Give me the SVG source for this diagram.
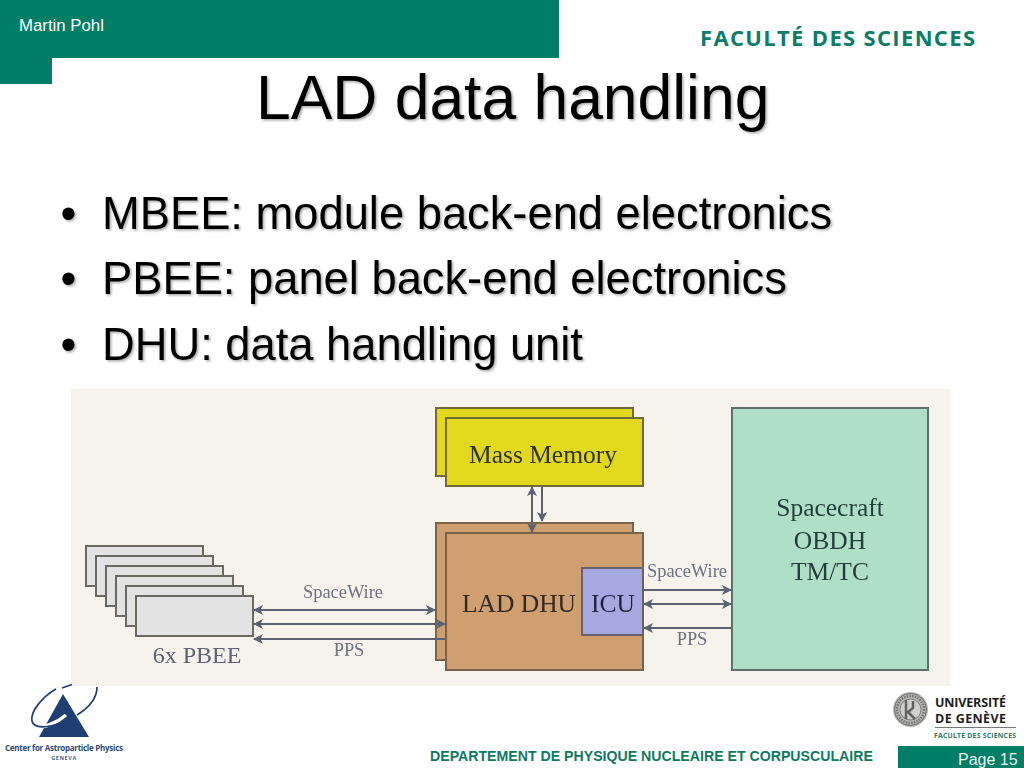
<svg xmlns="http://www.w3.org/2000/svg" width="1024" height="768" viewBox="0 0 1024 768">
<style>
.s{font-family:"Liberation Sans",Arial,sans-serif}
.p{font-family:"Liberation Serif","Times New Roman",serif;text-anchor:middle}
.t{font-size:62.4px;fill:#000;filter:url(#sh)}
.b{font-size:45.3px;fill:#000;filter:url(#sh)}
.pb{fill:#e3e3e3;stroke:#6a6a64;stroke-width:2}
.y{fill:#e2d91e;stroke:#6f6a38;stroke-width:2}
.o{fill:#cf9f70;stroke:#78634e;stroke-width:2}
.c{stroke:#5c6272;stroke-width:2;fill:none}
.lab{fill:#6d7180;font-size:18.4px}
.dk{fill:#33291f;font-size:25.5px}
.logo{font-family:"Open Sans","Liberation Sans",sans-serif;font-weight:700}
</style>
<defs>
<filter id="sh" x="-5%" y="-20%" width="110%" height="140%"><feDropShadow dx="1.6" dy="1.6" stdDeviation=".8" flood-color="#000" flood-opacity=".32"/></filter>
<filter id="soft" x="0" y="0" width="100%" height="100%"><feGaussianBlur stdDeviation=".45"/></filter>
<marker id="a" viewBox="0 0 10 10" refX="9" refY="5" markerWidth="5.5" markerHeight="5" orient="auto-start-reverse"><path d="M0 0L10 5L0 10L2.5 5Z" fill="#5c6272"/></marker>
</defs>
<rect width="1024" height="768" fill="#fff"/>
<g id="header">
<path d="M0 0H559V58H52V84H0Z" fill="#007f66"/>
<text class="s" x="19" y="30.500" font-size="16.800" fill="#fff">Martin Pohl</text>
<text x="700" y="46" font-family="'Open Sans','Liberation Sans',sans-serif" font-weight="700" font-size="22" fill="#0b7d69" textLength="275">FACULTÉ DES SCIENCES</text>
</g>
<text class="s t" x="256" y="119">LAD data handling</text>
<g id="bullets" class="s">
<text class="b" x="60.500" y="229">•</text><text class="b" x="102" y="229">MBEE: module back-end electronics</text>
<text class="b" x="60.500" y="294">•</text><text class="b" x="102" y="294">PBEE: panel back-end electronics</text>
<text class="b" x="60.500" y="360">•</text><text class="b" x="102" y="360">DHU: data handling unit</text>
</g>
<g id="figure" filter="url(#soft)">
<rect x="71" y="389" width="879" height="297" fill="#f5f3ec"/>
<g id="pbee">
<rect class="pb" x="86" y="546" width="117" height="40"/>
<rect class="pb" x="96" y="556" width="117" height="40"/>
<rect class="pb" x="106" y="566" width="117" height="40"/>
<rect class="pb" x="116" y="576" width="117" height="40"/>
<rect class="pb" x="126" y="586" width="117" height="40"/>
<rect class="pb" x="136" y="596" width="117" height="40"/>
<text class="p" x="197" y="663" font-size="24" fill="#5e6474">6x PBEE</text>
</g>
<g id="mass-memory">
<rect class="y" x="436" y="408" width="197" height="68"/>
<rect class="y" x="446" y="418" width="197" height="68"/>
<text class="p dk" x="543" y="463" style="fill:#33301a">Mass Memory</text>
</g>
<g id="lad-dhu">
<rect class="o" x="436" y="523" width="197" height="137"/>
<rect class="o" x="446" y="533" width="197" height="137"/>
<text class="p dk" x="519" y="612">LAD DHU</text>
</g>
<g id="icu">
<rect x="582" y="568" width="61" height="67" fill="#a8a8e0" stroke="#666270" stroke-width="2"/>
<text class="p" x="613" y="612" font-size="25.500" fill="#1f2440">ICU</text>
</g>
<g id="spacecraft">
<rect x="732" y="408" width="196" height="262" fill="#b0dfc8" stroke="#5f7068" stroke-width="2"/>
<g class="p" font-size="25.500" fill="#24403a">
<text x="830" y="516">Spacecraft</text>
<text x="830" y="549">OBDH</text>
<text x="830" y="580">TM/TC</text>
</g>
</g>
<g id="connectors">
<path class="c" d="M254 610H435" marker-start="url(#a)" marker-end="url(#a)"/>
<path class="c" d="M254 624H445" marker-start="url(#a)" marker-end="url(#a)"/>
<path class="c" d="M446 639H254" marker-end="url(#a)"/>
<path class="c" d="M532 487V532" marker-start="url(#a)" marker-end="url(#a)"/>
<path class="c" d="M542 486V521" marker-end="url(#a)"/>
<path class="c" d="M643 590H731" marker-end="url(#a)"/>
<path class="c" d="M644 604H731" marker-start="url(#a)" marker-end="url(#a)"/>
<path class="c" d="M732 628H644" marker-end="url(#a)"/>
</g>
<g id="labels" class="p lab">
<text x="343" y="598">SpaceWire</text>
<text x="349" y="656">PPS</text>
<text x="687" y="577">SpaceWire</text>
<text x="692" y="645">PPS</text>
</g>
</g>
<g id="cap-logo">
<path d="M63 694L89 737H39Z" fill="#1f3f73"/>
<path d="M66 715C58 722 42 730 36 725" fill="none" stroke="#fff" stroke-width="3.500"/>
<path d="M56 689C42 697 30 712 32 721C34 731 56 727 75 717" fill="none" stroke="#1f3f73" stroke-width="1.700"/>
<path d="M72 684.500L62 688" fill="none" stroke="#1f3f73" stroke-width="1.700"/>
<path d="M97 687C97 697 90 707 77 715" fill="none" stroke="#1f3f73" stroke-width="1.700"/>
<text class="logo" x="5" y="751" font-size="8" fill="#2d4a78" textLength="118">Center for Astroparticle Physics</text>
<text class="logo" x="64" y="760" font-size="5.500" fill="#4a5f85" text-anchor="middle" letter-spacing=".6">GENEVA</text>
</g>
<g id="unige-logo">
<circle cx="910.500" cy="709.500" r="17.500" fill="#b5b5b3"/>
<circle cx="910.500" cy="709.500" r="16" fill="none" stroke="#6f6f6d" stroke-width="1"/>
<circle cx="910.500" cy="709.500" r="13.500" fill="none" stroke="#777" stroke-width="2.500" stroke-dasharray="1.500 1.200"/>
<circle cx="910.500" cy="709.500" r="10.500" fill="#cfcfcd" stroke="#6f6f6d" stroke-width=".8"/>
<path d="M906 700V719M913 701V708L908 712L915 719" stroke="#626260" stroke-width="2.500" fill="none"/>
<text class="logo" x="935" y="707" font-size="12.500" fill="#1e1e1e" textLength="71">UNIVERSITÉ</text>
<text class="logo" x="935" y="723" font-size="12.500" fill="#1e1e1e" textLength="71">DE GENÈVE</text>
<path d="M935 727.500H1016" stroke="#555" stroke-width=".8"/>
<text class="logo" x="934" y="738" font-size="6.800" fill="#2c7a68" textLength="82">FACULTÉ DES SCIENCES</text>
</g>
<g id="footer" class="s">
<text x="430" y="761" font-size="14.150" fill="#0e7a62" font-weight="700">DEPARTEMENT DE PHYSIQUE NUCLEAIRE ET CORPUSCULAIRE</text>
<rect x="898" y="746" width="126" height="22" fill="#007f66"/>
<text x="958" y="765" font-size="16" fill="#e8f2ef">Page 15</text>
</g>
</svg>
